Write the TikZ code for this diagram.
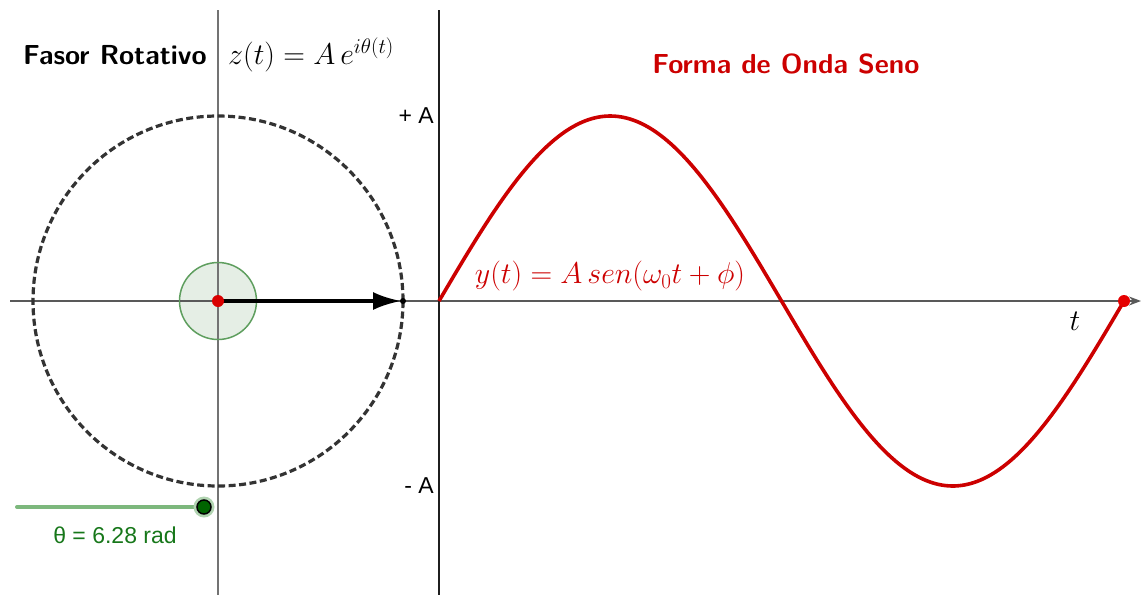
\RequirePackage{fix-cm}
\documentclass[tikz,border=0pt]{standalone}
\usepackage{fontspec}
\newfontfamily\arialf{Liberation Sans}
\usetikzlibrary{arrows.meta}
\definecolor{wavered}{HTML}{CC0000}
\definecolor{circgreen}{HTML}{5E9E5E}
\definecolor{circfill}{HTML}{E5EEE5}
\definecolor{slidegreen}{HTML}{7DB87D}
\definecolor{dotgreen}{HTML}{006400}
\definecolor{textgreen}{HTML}{17771A}
\tikzset{
  axisline/.style={draw=black!65, line width=1.4pt},
  mainline/.style={draw=black!88, line width=1.5pt},
  titletext/.style={font=\fontsize{27.5}{32}\selectfont\sffamily\bfseries, inner sep=0pt},
  mathtext/.style={font=\fontsize{30}{36}\selectfont, inner sep=0pt},
  arialtext/.style={font=\fontsize{23}{27}\selectfont\arialf, inner sep=0pt},
}
\begin{document}
\begin{tikzpicture}[x=1pt, y=-1pt]
\useasboundingbox (0,0) rectangle (1141,595);
% coordinates
\coordinate (O) at (218,301);
\coordinate (P) at (403,301);
\coordinate (W0) at (439,301);
\coordinate (WE) at (1124,301);
\coordinate (axL) at (10,301);
\coordinate (axR) at (1141,301);
\coordinate (v1t) at (218,10);
\coordinate (v1b) at (218,595);
\coordinate (v2t) at (439,10);
\coordinate (v2b) at (439,595);
\coordinate (sL) at (17,507);
\coordinate (sR) at (204,507);
% axes
\draw[axisline, -{Stealth[length=12pt,width=9pt]}] (axL) -- (axR);
\draw[draw=black!55, line width=1.4pt] (v1t) -- (v1b);
\draw[mainline] (v2t) -- (v2b);
% green small circle
\node[circle, draw=circgreen, fill=circfill, line width=1.5pt, minimum size=77pt, inner sep=0pt] (gc) at (O) {};
\draw[axisline] (O) ++(-38,0) -- ++(76,0);
\draw[draw=black!55, line width=1.4pt] (O) ++(0,-38) -- ++(0,76);
% dashed circle
\draw[draw=black!80, line width=3.2pt, dash pattern=on 7pt off 3.5pt] (O) circle[radius=185];
% phasor arrow
\draw[line width=3.4pt, -{Latex[length=28pt,width=18pt]}, shorten >=2pt] (O) -- (P);
\node[circle, fill=black, minimum size=6pt, inner sep=0pt] (pt) at (P) {};
\node[circle, fill=red!85!black, minimum size=12pt, inner sep=0pt] (cdot) at (O) {};
% sine wave
\draw[draw=wavered, line width=3.6pt, line join=round]
  plot[domain=0:685, samples=220] ({\x+439}, {301-185*sin(\x/685*360)});
\node[circle, fill=red!90!black, minimum size=12pt, inner sep=0pt] (edot) at (WE) {};
% labels
\node[titletext, anchor=base west] (t1) at (23,64) {Fasor Rotativo};
\node[mathtext, anchor=base west] (zf) at (228,64) {$z(t)=A\,e^{i\theta(t)}$};
\node[titletext, anchor=base, text=wavered] (t2) at (786,73) {Forma de Onda Seno};
\node[arialtext, anchor=east] (pa) at (434,116) {+ A};
\node[arialtext, anchor=east] (ma) at (434,486) {- A};
\node[mathtext] (tl) at (1075,321) {$t$};
\node[mathtext, text=wavered] (yf) at (610,276) {$y(t)=A\,sen(\omega_0 t+\phi)$};
% slider
\draw[draw=slidegreen, line width=4pt, line cap=round] (sL) -- (sR);
\node[circle, fill=slidegreen!60, minimum size=21pt, inner sep=0pt] (halo) at (sR) {};
\node[circle, fill=dotgreen, draw=black, line width=1.5pt, minimum size=14pt, inner sep=0pt] (sd) at (sR) {};
\node[arialtext, text=textgreen] (th) at (115,535) {θ = 6.28 rad};
\end{tikzpicture}
\end{document}
